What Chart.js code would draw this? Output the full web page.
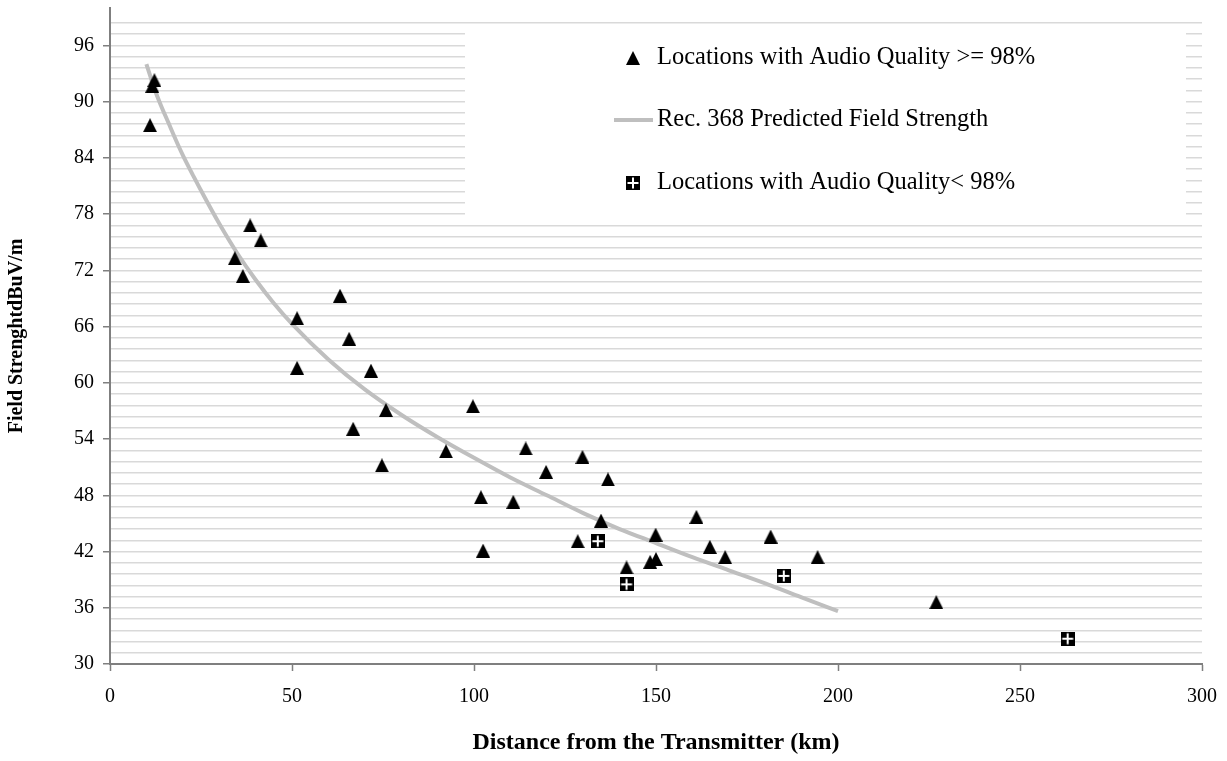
<!DOCTYPE html>
<html>
<head>
<meta charset="utf-8">
<script src="https://cdn.jsdelivr.net/npm/chart.js@4.4.1/dist/chart.umd.min.js"></script>
<style>
html,body{margin:0;padding:0;background:#ffffff;}
#wrap{width:1227px;height:761px;position:relative;}
</style>
</head>
<body>
<div id="wrap"><canvas id="c" width="1227" height="761"></canvas></div>
<script>
// ---- data ----
const seriesNames = [
  "Locations with Audio Quality >= 98%",
  "Rec. 368 Predicted Field Strength",
  "Locations with Audio Quality< 98%"
];
const goodX = [11.0, 11.6, 12.2, 34.3, 36.5, 38.5, 41.4, 51.4, 51.4, 63.2, 65.7, 66.8, 71.7, 74.7, 75.8,
               92.3, 99.7, 101.9, 102.5, 110.8, 114.2, 119.8, 128.5, 129.8, 134.9, 136.8,
               141.9, 148.4, 150.0, 149.9, 161.1, 164.8, 169.0, 181.5, 194.4, 227.0];
const goodY = [87.5, 91.7, 92.3, 73.3, 71.4, 76.8, 75.2, 66.9, 61.6, 69.3, 64.7, 55.1, 61.3, 51.2, 57.1,
               52.7, 57.5, 47.8, 42.1, 47.3, 53.0, 50.5, 43.1, 52.1, 45.3, 49.7,
               40.3, 40.9, 41.2, 43.8, 45.7, 42.5, 41.4, 43.6, 41.4, 36.6];
const badX = [134.0, 141.9, 185.1, 263.1];
const badY = [43.1, 38.5, 39.4, 32.7];
const recX = [10, 11, 12, 14, 16, 18, 20, 23, 26, 30, 35, 40, 45, 50, 60, 70, 80, 90, 100, 110, 120, 130, 140, 150, 160, 170, 180, 190, 200];
const recY = [94.0, 92.8, 91.6, 89.6, 87.8, 86.0, 84.3, 82.0, 79.8, 77.0, 73.8, 71.0, 68.5, 66.3, 62.5, 59.3, 56.6, 54.2, 52.0, 49.9, 48.0, 46.1, 44.4, 42.9, 41.4, 40.0, 38.6, 37.1, 35.65];
const xTickLabels = [0, 50, 100, 150, 200, 250, 300];
const yTickLabels = [30, 36, 42, 48, 54, 60, 66, 72, 78, 84, 90, 96];
const xTitle = "Distance from the Transmitter (km)";
const yTitle = "Field StrenghtdBuV/m";

// ---- styling ----
const FONT = "'Liberation Serif', 'Times New Roman', serif";
const AXIS = '#7f7f7f';
const GRID = '#d9d9d9';

function makeSquare(size) {
  const c = document.createElement('canvas');
  c.width = size; c.height = size;
  const g = c.getContext('2d');
  g.fillStyle = '#000';
  g.fillRect(0, 0, size, size);
  g.fillStyle = '#fff';
  const m = size / 2;
  g.fillRect(m - 1, 1.5, 2, size - 3);
  g.fillRect(1.5, m - 1, size - 3, 2);
  return c;
}
function makeTriangle(w, h) {
  const c = document.createElement('canvas');
  c.width = w; c.height = h;
  const g = c.getContext('2d');
  g.fillStyle = '#000';
  g.beginPath();
  g.moveTo(w / 2, 0);
  g.lineTo(w, h);
  g.lineTo(0, h);
  g.closePath();
  g.fill();
  return c;
}
const squareImg = makeSquare(14);
const triImg = makeTriangle(14, 14);

const isMajorY = v => yTickLabels.some(t => Math.abs(t - v) < 1e-6);

const legendPlugin = {
  id: 'boxLegend',
  beforeDatasetsDraw(chart) {
    const ctx = chart.ctx;
    ctx.save();
    ctx.fillStyle = '#ffffff';
    ctx.fillRect(465, 25, 721, 190);
    ctx.restore();
  },
  afterDatasetsDraw(chart) {
    const ctx = chart.ctx;
    const rows = [58, 120, 183];
    const symX = 633, textX = 657;
    ctx.save();
    ctx.drawImage(triImg, symX - 7, rows[0] - 7);
    ctx.strokeStyle = '#bfbfbf'; ctx.lineWidth = 4;
    ctx.beginPath(); ctx.moveTo(614, rows[1]); ctx.lineTo(653, rows[1]); ctx.stroke();
    ctx.drawImage(squareImg, symX - 7, rows[2] - 7);
    ctx.fillStyle = '#000';
    ctx.font = "24.5px " + FONT;
    ctx.textBaseline = 'middle';
    ctx.textAlign = 'left';
    seriesNames.forEach((n, i) => ctx.fillText(n, textX, rows[i]));
    ctx.restore();
  }
};

new Chart(document.getElementById('c'), {
  type: 'scatter',
  data: {
    datasets: [
      {
        label: seriesNames[0],
        data: goodX.map((x, i) => ({x: x, y: goodY[i]})),
        pointStyle: triImg,
        pointRadius: 7,
        pointHoverRadius: 7,
        backgroundColor: '#000',
        borderColor: '#000',
        order: 0
      },
      {
        label: seriesNames[1],
        type: 'line',
        data: recX.map((x, i) => ({x: x, y: recY[i]})),
        showLine: true,
        borderColor: '#bfbfbf',
        borderWidth: 4,
        pointRadius: 0,
        fill: false,
        cubicInterpolationMode: 'monotone',
        order: 10
      },
      {
        label: seriesNames[2],
        data: badX.map((x, i) => ({x: x, y: badY[i]})),
        pointStyle: squareImg,
        pointRadius: 7,
        backgroundColor: '#000',
        borderColor: '#000',
        order: 1
      }
    ]
  },
  options: {
    responsive: false,
    animation: false,
    devicePixelRatio: 1,
    layout: {padding: {left: 0, right: 25, top: 5, bottom: 0}},
    plugins: {legend: {display: false}, tooltip: {enabled: false}},
    scales: {
      x: {
        type: 'linear',
        min: 0, max: 300,
        afterFit: s => { s.height = 97; s.paddingLeft = 0; s.paddingRight = 0; },
        afterBuildTicks: s => { s.ticks = xTickLabels.map(v => ({value: v})); },
        ticks: {
          font: {family: FONT, size: 20}, color: '#000', padding: 14,
          maxRotation: 0, autoSkip: false,
          callback: v => String(v)
        },
        grid: {drawOnChartArea: false, drawTicks: true, tickLength: 7, tickColor: AXIS, tickWidth: 1.5},
        border: {display: true, color: AXIS, width: 2},
        title: {display: true, text: xTitle, color: '#000',
                font: {family: FONT, size: 24, weight: 'bold'}, padding: {top: 0, bottom: 4}}
      },
      y: {
        type: 'linear',
        min: 30, max: 100,
        afterFit: s => { s.width = 110; s.paddingTop = 0; s.paddingBottom = 0; },
        ticks: {
          stepSize: 1.2, autoSkip: false,
          font: {family: FONT, size: 20}, color: '#000', padding: 9,
          callback: v => isMajorY(v) ? String(Math.round(v)) : ''
        },
        grid: {
          drawTicks: true, tickLength: 7, tickWidth: 1.5,
          color: c => (c.tick && c.tick.value > 99.9) ? 'rgba(0,0,0,0)' : GRID,
          lineWidth: 1.5,
          tickColor: c => (c.tick && isMajorY(c.tick.value)) ? AXIS : 'rgba(0,0,0,0)'
        },
        border: {display: true, color: AXIS, width: 2},
        title: {display: true, text: yTitle, color: '#000',
                font: {family: FONT, size: 20, weight: 'bold'}, padding: {top: 5, bottom: 0}}
      }
    }
  },
  plugins: [legendPlugin]
});
</script>
</body>
</html>
